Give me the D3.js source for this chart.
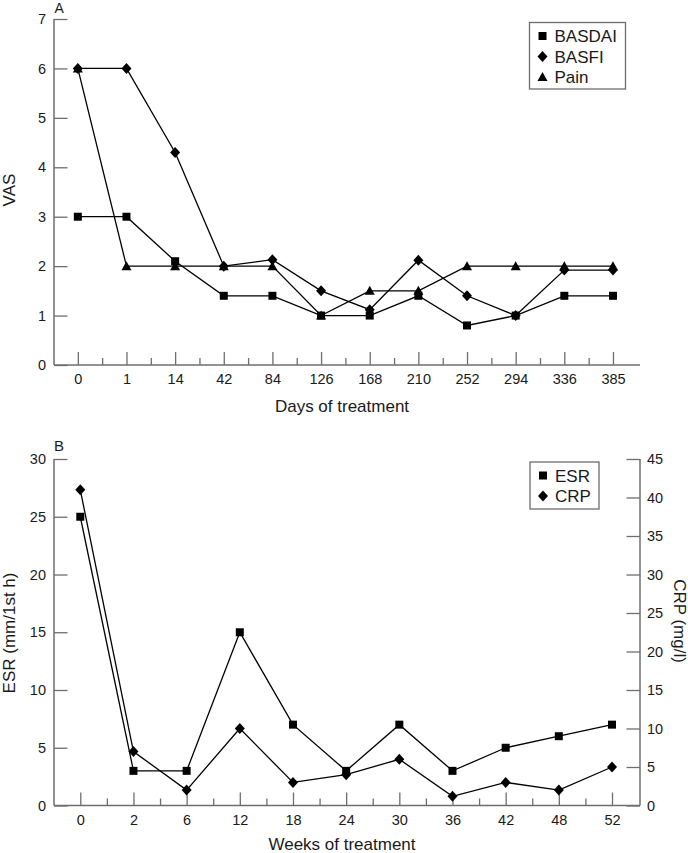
<!DOCTYPE html>
<html>
<head>
<meta charset="utf-8">
<script src="https://cdn.jsdelivr.net/npm/d3@7"></script>
<style>
  html, body { margin: 0; padding: 0; background: #fff; }
  svg { display: block; font-family: "Liberation Sans", Arial, Helvetica, sans-serif; }
</style>
</head>
<body>
<svg id="chart" width="688" height="853"></svg>
<script>
// ---- Panel A data ----
const daysLabels = ["0", "1", "14", "42", "84", "126", "168", "210", "252", "294", "336", "385"];
const basdai = [3, 3, 2.1, 1.4, 1.4, 1.0, 1.0, 1.4, 0.8, 1.0, 1.4, 1.4];
const basfi  = [6, 6, 4.3, 2.0, 2.13, 1.5, 1.12, 2.12, 1.4, 1.0, 1.92, 1.92];
const pain   = [6, 2, 2, 2, 2, 1.0, 1.5, 1.5, 2, 2, 2, 2];
const vasTicks = [0, 1, 2, 3, 4, 5, 6, 7];

// ---- Panel B data ----
const weeksLabels = ["0", "2", "6", "12", "18", "24", "30", "36", "42", "48", "52"];
const esr = [25, 3, 3, 15, 7, 3, 7, 3, 5, 6, 7];
const crp = [41, 7, 2, 10, 3, 4, 6, 1.2, 3, 2, 5];
const esrTicks = [0, 5, 10, 15, 20, 25, 30];
const crpTicks = [0, 5, 10, 15, 20, 25, 30, 35, 40, 45];

const svg = d3.select("#chart");
const AXIS = "#6e6e6e";
const TXT = "#1a1a1a";

// marker shapes
const shapes = {
  square: "M-4,-4H4V4H-4Z",
  diamond: "M0,-5.5L5,0L0,5.5L-5,0Z",
  triangle: "M0,-5L5,4L-5,4Z"
};

function styleAxis(g) {
  g.selectAll(".domain").remove();
  g.selectAll(".tick line").attr("stroke", AXIS).attr("stroke-width", 1.3);
  g.selectAll(".tick text").attr("fill", TXT).style("font-size", "14.5px")
    .style("font-family", '"Liberation Sans", Arial, sans-serif');
}

function drawSeries(g, x, y, values, shape) {
  const line = d3.line().x((d, i) => x(i)).y(d => y(d));
  g.append("path").datum(values).attr("d", line)
    .attr("fill", "none").attr("stroke", "#000").attr("stroke-width", 1.3);
  g.selectAll(null).data(values).enter().append("path")
    .attr("d", shapes[shape])
    .attr("transform", (d, i) => `translate(${x(i)},${y(d)})`)
    .attr("fill", "#000");
}

function drawLegend(g, x0, y0, w, h, items) {
  g.append("rect").attr("x", x0).attr("y", y0).attr("width", w).attr("height", h)
    .attr("fill", "#fff").attr("stroke", AXIS).attr("stroke-width", 1.3);
  items.forEach((it, i) => {
    const cy = y0 + 13.5 + i * 20.5;
    g.append("path").attr("d", shapes[it.shape])
      .attr("transform", `translate(${x0 + 13},${cy})`).attr("fill", "#000");
    g.append("text").attr("x", x0 + 25).attr("y", cy + 6)
      .attr("fill", TXT).style("font-size", "17px").text(it.label);
  });
}

// ================= Panel A =================
{
  const left = 54, right = 640, top = 19, bottom = 365;
  const x = d3.scaleLinear().domain([-0.5, daysLabels.length - 0.5]).range([53.5, 637.3]);
  const y = d3.scaleLinear().domain([0, 7]).range([bottom, top]);
  const g = svg.append("g");

  g.append("line").attr("x1", left).attr("x2", left).attr("y1", top).attr("y2", bottom)
    .attr("stroke", AXIS).attr("stroke-width", 1.5);
  g.append("line").attr("x1", left).attr("x2", right).attr("y1", bottom).attr("y2", bottom)
    .attr("stroke", AXIS).attr("stroke-width", 1.5);

  const yAxis = g.append("g").attr("transform", `translate(${left},0)`)
    .call(d3.axisLeft(y).tickValues(vasTicks).tickSize(-13.5).tickPadding(8).tickFormat(d3.format("d")));
  styleAxis(yAxis);

  const xAxis = g.append("g").attr("transform", `translate(0,${bottom})`)
    .call(d3.axisBottom(x).tickValues(d3.range(daysLabels.length)).tickSize(-13).tickPadding(9)
      .tickFormat(i => daysLabels[i]));
  styleAxis(xAxis);

  const minor = g.append("g").attr("transform", `translate(0,${bottom})`)
    .call(d3.axisBottom(x).tickValues(d3.range(daysLabels.length - 1).map(i => i + 0.5))
      .tickSize(-7).tickFormat(""));
  styleAxis(minor);

  drawSeries(g, x, y, pain, "triangle");
  drawSeries(g, x, y, basdai, "square");
  drawSeries(g, x, y, basfi, "diamond");

  g.append("text").attr("x", 342).attr("y", 412).attr("text-anchor", "middle")
    .attr("fill", TXT).style("font-size", "17px").text("Days of treatment");
  g.append("text").attr("transform", "translate(14.5,190) rotate(-90)").attr("text-anchor", "middle")
    .attr("fill", TXT).style("font-size", "17px").text("VAS");
  g.append("text").attr("x", 54.5).attr("y", 13).attr("fill", TXT)
    .style("font-size", "14px").text("A");

  drawLegend(g, 529.5, 22.5, 96, 66.5, [
    { shape: "square", label: "BASDAI" },
    { shape: "diamond", label: "BASFI" },
    { shape: "triangle", label: "Pain" }
  ]);
}

// ================= Panel B =================
{
  const left = 54, right = 640, top = 459, bottom = 805.5;
  const x = d3.scaleLinear().domain([-0.5, weeksLabels.length - 0.5]).range([53.7, 638.6]);
  const yL = d3.scaleLinear().domain([0, 30]).range([bottom, top]);
  const yR = d3.scaleLinear().domain([0, 45]).range([bottom, top]);
  const g = svg.append("g");

  g.append("line").attr("x1", left).attr("x2", left).attr("y1", top).attr("y2", bottom)
    .attr("stroke", AXIS).attr("stroke-width", 1.5);
  g.append("line").attr("x1", right).attr("x2", right).attr("y1", top).attr("y2", bottom)
    .attr("stroke", AXIS).attr("stroke-width", 1.5);
  g.append("line").attr("x1", left).attr("x2", right).attr("y1", bottom).attr("y2", bottom)
    .attr("stroke", AXIS).attr("stroke-width", 1.5);

  const yAxisL = g.append("g").attr("transform", `translate(${left},0)`)
    .call(d3.axisLeft(yL).tickValues(esrTicks).tickSize(-13.5).tickPadding(8).tickFormat(d3.format("d")));
  styleAxis(yAxisL);

  const yAxisR = g.append("g").attr("transform", `translate(${right},0)`)
    .call(d3.axisRight(yR).tickValues(crpTicks).tickSize(-13.5).tickPadding(7).tickFormat(d3.format("d")));
  styleAxis(yAxisR);

  const xAxis = g.append("g").attr("transform", `translate(0,${bottom})`)
    .call(d3.axisBottom(x).tickValues(d3.range(weeksLabels.length)).tickSize(-13).tickPadding(9)
      .tickFormat(i => weeksLabels[i]));
  styleAxis(xAxis);

  const minor = g.append("g").attr("transform", `translate(0,${bottom})`)
    .call(d3.axisBottom(x).tickValues(d3.range(weeksLabels.length - 1).map(i => i + 0.5))
      .tickSize(-7).tickFormat(""));
  styleAxis(minor);

  drawSeries(g, x, yR, crp, "diamond");
  drawSeries(g, x, yL, esr, "square");

  g.append("text").attr("x", 342).attr("y", 850).attr("text-anchor", "middle")
    .attr("fill", TXT).style("font-size", "17px").text("Weeks of treatment");
  g.append("text").attr("transform", "translate(14.5,633) rotate(-90)").attr("text-anchor", "middle")
    .attr("fill", TXT).style("font-size", "17px").text("ESR (mm/1st h)");
  g.append("text").attr("transform", "translate(674,621) rotate(90)").attr("text-anchor", "middle")
    .attr("fill", TXT).style("font-size", "17px").text("CRP (mg/l)");
  g.append("text").attr("x", 54).attr("y", 450.5).attr("fill", TXT)
    .style("font-size", "15px").text("B");

  drawLegend(g, 530, 462, 69, 47, [
    { shape: "square", label: "ESR" },
    { shape: "diamond", label: "CRP" }
  ]);
}
</script>
</body>
</html>
